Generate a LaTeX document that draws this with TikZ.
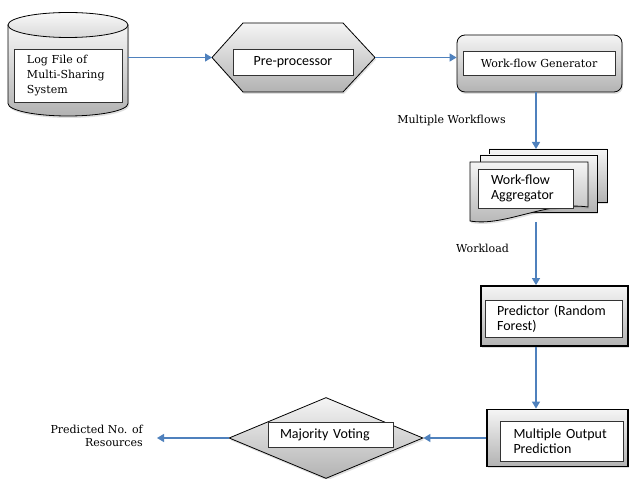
\documentclass[tikz,border=0pt]{standalone}
\usepackage{fontspec}
\setmainfont{DejaVu Serif}
\newfontfamily\sansf{Carlito}
\usetikzlibrary{shapes.geometric,arrows.meta,shadows,calc}
\definecolor{flowblue}{HTML}{4F81BD}

\begin{document}
\begin{tikzpicture}[x=1pt,y=1pt,
  flow/.style={draw=flowblue, line width=1.2pt, -{Triangle[length=7pt,width=8pt]}},
  shell/.style={draw=black, line width=0.8pt, top color=gray!8, bottom color=gray!60,
    drop shadow={opacity=0.25, shadow xshift=1pt, shadow yshift=-2pt}},
  frame/.style={shell, line width=1.8pt},
  hold/.style={rectangle, inner sep=0pt, outer sep=0pt},
  card/.style={rectangle, draw=black!80, line width=0.8pt, fill=white, inner sep=0pt, outer sep=0pt},
  serif/.style={font=\fontsize{11}{15}\selectfont},
  sans/.style={font=\sansf\fontsize{14}{15}\selectfont},
  note/.style={font=\fontsize{11}{13}\selectfont, inner sep=0pt}
]
\useasboundingbox (0,0) rectangle (629,479);
\fill[white] (0,0) rectangle (629,479);

% --- log file (cylinder)
\node[hold, minimum width=120pt, minimum height=103.5pt] (logfile) at (68,414.75) {};
\path[shell] (8,454) -- (8,375.5) arc[start angle=180, end angle=360, x radius=60, y radius=12.5] -- (128,454) -- cycle;
\path[draw=black, line width=0.8pt, top color=gray!5, bottom color=gray!30] (68,454) ellipse [x radius=60, y radius=12.5];
\node[card, serif, minimum width=108pt, minimum height=53pt, text width=82pt, align=left] (logtext) at (68,403.5)
  {Log File of\\Multi-Sharing\\System};

% --- pre-processor (hexagon)
\node[hold, minimum width=163pt, minimum height=69pt] (pre) at (293.5,421.5) {};
\path[shell] (pre.west) -- ($(pre.north west)+(31,0)$) -- ($(pre.north east)+(-32,0)$) -- (pre.east)
  -- ($(pre.south east)+(-32,0)$) -- ($(pre.south west)+(31,0)$) -- cycle;
\node[card, sans, minimum width=120pt, minimum height=26pt] (pretext) at (293,417) {Pre-processor};

% --- work-flow generator (rounded box)
\node[shell, rectangle, rounded corners=8pt, minimum width=165pt, minimum height=57pt] (wg) at (539.5,415.5) {};
\node[card, serif, minimum width=152pt, minimum height=24pt] (wgtext) at (539,416) {Work-flow Generator};

% --- work-flow aggregator (stacked documents)
\node[hold, minimum width=138pt, minimum height=73pt] (agg) at (539,293.5) {};
\path[shell] (489,277) rectangle (607,330);
\path[shell] (480,267) rectangle (597,324);
\path[shell] (470,317) -- (588,317) -- (588,272) .. controls (545,278) and (505,252) .. (470,258) -- cycle;
\node[card, sans, minimum width=95pt, minimum height=39pt, text width=69pt, align=left] (aggtext) at (525.5,290.5)
  {Work-flow\\Aggregator};

% --- predictor
\node[frame, minimum width=147pt, minimum height=60pt] (pred) at (554.5,163) {};
\node[card, sans, minimum width=137pt, minimum height=37pt, text width=113pt, align=left] (predtext) at (553.5,160.5)
  {Predictor (Random\\Forest)};

% --- multiple output prediction
\node[frame, minimum width=141pt, minimum height=57pt] (mop) at (557.5,41) {};
\node[card, sans, minimum width=123pt, minimum height=40pt, text width=96pt, align=left] (moptext) at (561.5,38)
  {Multiple Output\\Prediction};

% --- majority voting (diamond)
\node[diamond, shell, inner sep=0pt, minimum width=194pt, minimum height=81pt] (vote) at (326,41) {};
\node[card, sans, minimum width=125pt, minimum height=25pt, text width=101pt, align=left] (votetext) at (330.5,44.5)
  {Majority Voting};

% --- labels
\node[note] (multi) at (451.5,359) {Multiple Workflows};
\node[note] (wload) at (482.5,231) {Workload};
\node[note, align=right, anchor=east] (result) at (143,43.5) {Predicted No. of\\Resources};

% --- connectors
\coordinate (axis) at (536,0);
\draw[flow] (logfile.east |- pre.west) -- (pre.west);
\draw[flow] (pre.east) -- (pre.east -| wg.west);
\draw[flow] (wg.south -| axis) -- (agg.north -| axis);
\draw[flow] (agg.south -| axis) -- (pred.north -| axis);
\draw[flow] (pred.south -| axis) -- (mop.north -| axis);
\draw[flow] (mop.west) -- (vote.east);
\draw[flow, shorten >=14pt] (vote.west) -- (vote.west -| result.east);
\end{tikzpicture}
\end{document}
